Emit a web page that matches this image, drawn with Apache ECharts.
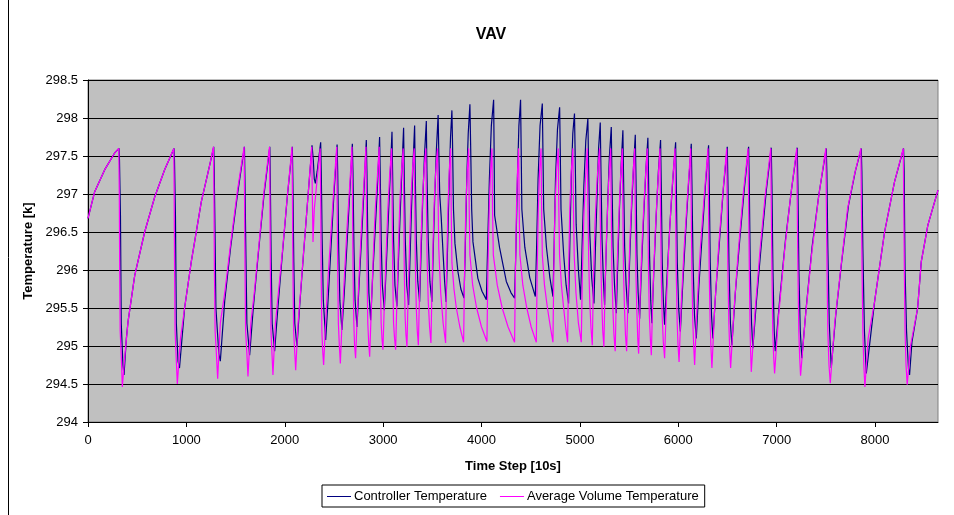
<!DOCTYPE html>
<html>
<head>
<meta charset="utf-8">
<script src="https://cdn.jsdelivr.net/npm/echarts@6/dist/echarts.min.js"></script>
<style>
  html, body { margin: 0; padding: 0; background: #fff; }
  #chart { width: 954px; height: 515px; }
</style>
</head>
<body>
<div id="chart"></div>
<script>
// [time step, temperature K], cycle by cycle
var ctrlEarly = [
    [0,296.68],[68,297.03],[170,297.32],[271,297.54],[315,297.6],
    [320,297.45],[330,296.7],[338,295.3],[355,294.75],[366,294.62],
    [390,295.1],[407,295.32],[475,295.93],[576,296.5],[678,296.96],[779,297.32],[874,297.6],
    [879,297.45],[889,296.7],[898,295.3],[915,294.8],[930,294.71],
    [982,295.5],[1050,296.11],[1152,296.9],[1237,297.38],[1278,297.62],
    [1283,297.3],[1292,296.4],[1300,295.5],[1330,294.9],[1345,294.8],
    [1390,295.6],[1450,296.3],[1520,297.0],[1590,297.62],
    [1595,297.2],[1605,296.2],[1615,295.3],[1643,294.88],
    [1680,295.5],[1730,296.2],[1790,297.0],[1848,297.62],
    [1853,297.2],[1862,296.1],[1872,295.3],[1897,294.93],
    [1930,295.5],[1975,296.2],[2025,296.95],[2077,297.62],
    [2082,297.2],[2092,296.1],[2102,295.3],[2124,294.99],
    [2150,295.5],[2190,296.2],[2235,296.95],[2277,297.64],
    [2290,297.45],[2300,297.2],[2311,297.14],[2330,297.3],[2365,297.68],
    [2372,297.2],[2380,296.4],[2392,295.6],[2416,295.08]
];
var ctrlTransition = [
    [2440,295.6],[2470,296.3],[2500,297.0],[2532,297.65],
    [2538,297.3],[2548,296.3],[2560,295.6],[2581,295.21],
    [2605,295.7],[2635,296.4],[2660,297.0],[2687,297.66],
    [2693,297.3],[2703,296.3],[2715,295.6],[2734,295.25],
    [2755,295.8],[2780,296.4],[2805,297.05],[2829,297.71],
    [2835,297.3],[2845,296.3],[2855,295.7],[2873,295.34],
    [2893,295.9],[2918,296.5],[2942,297.1],[2964,297.75],
    [2970,297.3],[2980,296.4],[2992,295.8],[3012,295.47],
    [3030,296.0],[3050,296.6],[3070,297.2],[3090,297.82],
    [3096,297.3],[3106,296.4],[3120,295.8],[3140,295.52],
    [3155,296.1],[3172,296.7],[3190,297.3],[3208,297.87],
    [3214,297.3],[3225,296.4],[3240,295.8],[3259,295.54],
    [3272,296.1],[3288,296.8],[3304,297.4],[3320,297.9],
    [3326,297.3],[3337,296.4],[3352,295.85],[3371,295.58],
    [3385,296.2],[3402,296.9],[3420,297.5],[3439,297.96],
    [3445,297.3],[3458,296.4],[3475,295.85],[3496,295.58],
    [3510,296.3],[3525,297.0],[3542,297.6],[3559,298.04],
    [3565,297.6],[3575,297.0],[3590,296.7],[3610,296.2],[3625,295.85],[3640,295.58]
];
var ctrlMiddle = [
    [3655,296.3],[3672,297.2],[3685,297.75],[3699,298.1],
    [3705,297.7],[3715,296.8],[3730,296.35],[3760,295.98],[3790,295.75],[3822,295.63],
    [3835,296.3],[3850,297.2],[3865,297.8],[3882,298.18],
    [3890,297.6],[3900,296.8],[3913,296.37],[3963,295.89],[4005,295.72],[4049,295.61],
    [4062,296.3],[4080,297.2],[4100,297.9],[4123,298.24],
    [4128,297.6],[4133,296.72],[4184,296.29],[4252,295.85],[4300,295.7],[4336,295.63],
    [4350,296.3],[4365,297.2],[4380,297.9],[4397,298.24],
    [4403,297.6],[4410,296.8],[4440,296.3],[4490,295.9],[4547,295.65],
    [4560,296.3],[4575,297.2],[4595,297.9],[4618,298.19],
    [4624,297.6],[4632,296.8],[4660,296.3],[4695,295.9],[4726,295.65],
    [4738,296.3],[4752,297.2],[4772,297.85],[4794,298.14],
    [4800,297.6],[4808,296.8],[4835,296.2],[4860,295.8],[4885,295.56],
    [4897,296.3],[4912,297.2],[4928,297.8],[4945,298.06],
    [4952,297.5],[4962,296.6],[4985,296.0],[5007,295.61]
];
var ctrlLate = [
    [5022,296.3],[5040,297.1],[5060,297.7],[5081,297.99],
    [5088,297.4],[5100,296.5],[5120,295.9],[5143,295.56],
    [5158,296.3],[5175,297.0],[5190,297.6],[5207,297.94],
    [5214,297.3],[5225,296.4],[5238,295.9],[5251,295.54],
    [5266,296.2],[5283,296.9],[5300,297.5],[5319,297.88],
    [5326,297.2],[5337,296.3],[5352,295.8],[5370,295.43],
    [5385,296.1],[5402,296.8],[5420,297.4],[5437,297.84],
    [5444,297.2],[5455,296.3],[5470,295.8],[5488,295.43],
    [5505,296.1],[5525,296.8],[5545,297.35],[5563,297.78],
    [5570,297.2],[5580,296.2],[5592,295.7],[5607,295.36],
    [5625,296.0],[5648,296.7],[5670,297.3],[5691,297.74],
    [5698,297.2],[5708,296.2],[5720,295.6],[5732,295.3],
    [5752,296.0],[5775,296.7],[5798,297.3],[5820,297.71],
    [5827,297.1],[5837,296.1],[5848,295.6],[5861,295.28],
    [5885,295.9],[5915,296.6],[5945,297.2],[5973,297.68],
    [5980,297.1],[5990,296.1],[6004,295.5],[6021,295.19],
    [6045,295.8],[6075,296.5],[6105,297.15],[6132,297.66],
    [6139,297.1],[6150,296.1],[6165,295.4],[6183,295.1],
    [6210,295.8],[6245,296.5],[6278,297.15],[6308,297.64],
    [6315,297.1],[6325,296.1],[6338,295.4],[6352,295.1],
    [6380,295.7],[6420,296.4],[6460,297.1],[6498,297.62],
    [6505,297.1],[6515,296.1],[6530,295.3],[6545,295.01],
    [6580,295.7],[6625,296.4],[6670,297.05],[6715,297.62],
    [6722,297.1],[6732,296.0],[6745,295.3],[6758,294.97],
    [6795,295.6],[6845,296.35],[6895,297.05],[6945,297.61],
    [6952,297.1],[6962,296.0],[6975,295.2],[6986,294.93],
    [7030,295.6],[7090,296.4],[7150,297.05],[7209,297.61],
    [7216,297.1],[7226,296.0],[7240,295.2],[7256,294.84],
    [7300,295.5],[7360,296.3],[7430,297.0],[7504,297.6],
    [7510,297.3],[7520,296.3],[7535,295.3],[7555,294.71],
    [7600,295.4],[7660,296.1],[7730,296.85],[7800,297.3],[7860,297.6],
    [7866,297.3],[7876,296.3],[7892,295.2],[7911,294.64],
    [7995,295.58],[8097,296.5],[8198,297.16],[8290,297.6],
    [8296,297.3],[8305,296.0],[8320,295.2],[8340,294.7],[8351,294.62],
    [8375,295.05],[8433,295.5],[8470,296.11],[8537,296.59],[8640,297.05]
];

var avgEarly = [
    [0,296.68],[68,297.03],[170,297.32],[271,297.54],[313,297.6],
    [318,297.0],[322,296.0],[327,295.2],[340,294.8],[349,294.46],
    [373,294.85],[407,295.32],[475,295.93],[576,296.5],[678,296.96],[779,297.32],[872,297.6],
    [876,297.0],[880,296.0],[885,295.2],[898,294.8],[908,294.5],
    [940,295.1],[982,295.5],[1050,296.11],[1152,296.9],[1237,297.38],[1275,297.62],
    [1280,297.0],[1285,296.0],[1292,295.2],[1305,294.9],[1318,294.57],
    [1345,295.3],[1390,295.7],[1450,296.35],[1520,297.05],[1587,297.62],
    [1591,297.0],[1596,296.0],[1602,295.2],[1615,294.9],[1626,294.6],
    [1655,295.3],[1690,295.7],[1735,296.3],[1790,297.05],[1845,297.62],
    [1849,297.0],[1854,296.0],[1860,295.2],[1870,294.9],[1880,294.62],
    [1905,295.3],[1935,295.7],[1980,296.3],[2028,297.0],[2074,297.62],
    [2078,297.0],[2083,296.0],[2090,295.2],[2100,294.95],[2111,294.68],
    [2135,295.3],[2160,295.7],[2195,296.3],[2238,297.0],[2274,297.62],
    [2280,297.0],[2287,296.37],[2300,296.8],[2330,297.2],[2360,297.6],
    [2365,297.0],[2370,296.0],[2377,295.2],[2385,294.95],[2395,294.75]
];
var avgTransition = [
    [2415,295.3],[2440,295.9],[2470,296.5],[2500,297.1],[2528,297.62],
    [2532,297.0],[2538,296.0],[2545,295.3],[2555,295.0],[2565,294.77],
    [2585,295.4],[2610,296.0],[2635,296.6],[2660,297.1],[2683,297.62],
    [2688,297.0],[2694,296.0],[2702,295.3],[2710,295.0],[2720,294.84],
    [2740,295.5],[2762,296.1],[2785,296.7],[2805,297.15],[2825,297.62],
    [2830,297.0],[2836,296.0],[2844,295.3],[2853,295.05],[2863,294.86],
    [2880,295.5],[2900,296.2],[2920,296.8],[2940,297.2],[2960,297.62],
    [2965,297.0],[2971,296.0],[2980,295.3],[2988,295.1],[2998,294.95],
    [3013,295.6],[3030,296.2],[3048,296.8],[3066,297.25],[3086,297.6],
    [3091,297.0],[3097,296.0],[3106,295.3],[3116,295.1],[3127,294.95],
    [3140,295.6],[3155,296.3],[3170,296.9],[3186,297.3],[3204,297.6],
    [3209,297.0],[3215,296.0],[3223,295.4],[3232,295.15],[3242,294.99],
    [3255,295.7],[3270,296.4],[3285,297.0],[3300,297.35],[3316,297.6],
    [3321,297.0],[3327,296.1],[3337,295.5],[3347,295.2],[3358,295.01],
    [3370,295.7],[3385,296.4],[3402,297.0],[3418,297.35],[3434,297.6],
    [3439,297.0],[3446,296.2],[3458,295.6],[3472,295.25],[3486,295.04],
    [3497,295.8],[3510,296.5],[3525,297.1],[3540,297.4],[3553,297.6],
    [3558,297.0],[3565,296.3],[3585,295.7],[3610,295.3],[3635,295.04]
];
var avgMiddle = [
    [3645,296.0],[3658,296.8],[3672,297.3],[3686,297.6],
    [3692,296.8],[3699,296.1],[3720,295.75],[3744,295.5],[3780,295.25],[3818,295.05],
    [3828,296.0],[3840,296.8],[3855,297.3],[3869,297.6],
    [3875,296.8],[3882,296.2],[3910,295.8],[3950,295.5],[4000,295.25],[4055,295.06],
    [4065,296.0],[4078,296.8],[4092,297.3],[4106,297.6],
    [4112,296.8],[4120,296.2],[4160,295.8],[4210,295.5],[4270,295.25],[4336,295.05],
    [4345,296.0],[4355,296.8],[4366,297.3],[4377,297.6],
    [4383,296.8],[4390,296.2],[4420,295.8],[4460,295.5],[4505,295.25],[4557,295.05],
    [4566,296.0],[4577,296.8],[4590,297.3],[4605,297.6],
    [4611,296.8],[4618,296.2],[4640,295.8],[4670,295.5],[4700,295.25],[4726,295.05],
    [4735,296.0],[4746,296.8],[4762,297.3],[4780,297.6],
    [4786,296.8],[4793,296.2],[4812,295.8],[4835,295.5],[4855,295.25],[4875,295.05],
    [4885,296.0],[4897,296.8],[4912,297.3],[4929,297.6],
    [4935,296.8],[4942,296.2],[4960,295.7],[4985,295.3],[5014,295.05]
];
var avgLate = [
    [5026,296.0],[5040,296.7],[5057,297.2],[5075,297.6],
    [5081,296.9],[5090,296.1],[5100,295.6],[5112,295.25],[5126,295.01],
    [5138,295.9],[5153,296.6],[5175,297.2],[5200,297.6],
    [5205,296.9],[5213,296.1],[5222,295.6],[5232,295.2],[5244,294.99],
    [5256,295.8],[5272,296.5],[5292,297.15],[5313,297.6],
    [5318,296.9],[5325,296.0],[5335,295.5],[5346,295.15],[5359,294.93],
    [5372,295.8],[5390,296.5],[5410,297.15],[5431,297.6],
    [5436,296.9],[5443,296.0],[5453,295.5],[5463,295.15],[5475,294.93],
    [5490,295.7],[5510,296.45],[5532,297.1],[5557,297.6],
    [5562,296.9],[5569,296.0],[5578,295.5],[5588,295.1],[5597,294.9],
    [5613,295.7],[5635,296.45],[5660,297.1],[5685,297.6],
    [5690,296.9],[5697,296.0],[5706,295.4],[5716,295.1],[5726,294.88],
    [5742,295.7],[5764,296.45],[5790,297.1],[5814,297.6],
    [5819,296.9],[5826,296.0],[5836,295.4],[5848,295.05],[5861,294.84],
    [5880,295.6],[5905,296.35],[5935,297.05],[5967,297.6],
    [5972,296.9],[5979,296.0],[5989,295.3],[5998,295.0],[6008,294.79],
    [6030,295.55],[6060,296.3],[6095,297.0],[6126,297.6],
    [6131,296.9],[6138,296.0],[6148,295.3],[6157,295.0],[6166,294.75],
    [6190,295.5],[6225,296.3],[6265,297.0],[6302,297.6],
    [6307,296.9],[6314,296.0],[6324,295.3],[6333,294.95],[6342,294.71],
    [6370,295.5],[6410,296.3],[6452,297.0],[6492,297.6],
    [6497,296.9],[6504,296.0],[6514,295.3],[6523,294.95],[6532,294.71],
    [6565,295.45],[6610,296.25],[6660,297.0],[6710,297.6],
    [6715,296.9],[6722,296.0],[6730,295.2],[6736,294.9],[6742,294.66],
    [6780,295.45],[6830,296.25],[6885,297.0],[6940,297.6],
    [6945,296.9],[6952,296.0],[6960,295.2],[6970,294.85],[6979,294.64],
    [7020,295.4],[7080,296.25],[7140,296.95],[7204,297.6],
    [7209,296.9],[7216,296.0],[7225,295.2],[7234,294.85],[7243,294.61],
    [7290,295.35],[7355,296.2],[7425,296.95],[7500,297.6],
    [7505,296.9],[7512,296.0],[7520,295.2],[7532,294.75],[7545,294.51],
    [7590,295.3],[7650,296.0],[7720,296.8],[7790,297.25],[7856,297.6],
    [7861,296.9],[7868,296.0],[7876,295.2],[7886,294.75],[7897,294.46],
    [7930,295.1],[7995,295.58],[8097,296.5],[8198,297.16],[8287,297.6],
    [8292,296.9],[8298,296.0],[8305,295.2],[8315,294.75],[8327,294.49],
    [8360,295.0],[8433,295.5],[8470,296.11],[8537,296.59],[8640,297.05]
];

var seriesNames = ['Controller Temperature', 'Average Volume Temperature'];
var xTicks = [0, 1000, 2000, 3000, 4000, 5000, 6000, 7000, 8000];

var controllerData = ctrlEarly.concat(ctrlTransition, ctrlMiddle, ctrlLate);
var averageData = avgEarly.concat(avgTransition, avgMiddle, avgLate);

var font = 'Arial, "Liberation Sans", sans-serif';
var chart = echarts.init(document.getElementById('chart'));

var option = {
    animation: false,
    backgroundColor: '#ffffff',
    title: {
        text: 'VAV',
        left: 486,
        top: 22,
        textAlign: 'center',
        textStyle: { fontFamily: font, fontSize: 16, fontWeight: 'bold', color: '#000' }
    },
    grid: {
        left: 88,
        right: 16,
        top: 80,
        bottom: 93,
        show: true,
        backgroundColor: '#C0C0C0',
        borderColor: '#808080',
        borderWidth: 1
    },
    legend: {
        data: seriesNames,
        left: 322,
        top: 485,
        padding: [5, 6, 4, 5],
        itemGap: 13,
        itemWidth: 24,
        itemHeight: 1,
        icon: 'rect',
        borderColor: '#000',
        borderWidth: 1,
        textStyle: { fontFamily: font, fontSize: 13, color: '#000', padding: [0, 0, 0, -2] }
    },
    xAxis: {
        type: 'value',
        min: 0,
        max: 8640,
        interval: 1000,
        name: 'Time Step [10s]',
        nameLocation: 'middle',
        nameGap: 38,
        nameTextStyle: { fontFamily: font, fontSize: 13, fontWeight: 'bold', color: '#000' },
        axisLine: { show: true, onZero: false, lineStyle: { color: '#000', width: 1 } },
        axisTick: { show: true, length: 5, lineStyle: { color: '#000' } },
        axisLabel: {
            fontFamily: font, fontSize: 13, color: '#000', margin: 12,
            showMaxLabel: false,
            formatter: function (v) { return xTicks.indexOf(v) >= 0 ? String(v) : ''; }
        },
        splitLine: { show: false }
    },
    yAxis: {
        type: 'value',
        min: 294,
        max: 298.5,
        interval: 0.5,
        name: 'Temperature [k]',
        nameLocation: 'middle',
        nameGap: 42,
        nameRotate: 90,
        nameTextStyle: { fontFamily: font, fontSize: 13, fontWeight: 'bold', color: '#000' },
        axisLine: { show: true, lineStyle: { color: '#000', width: 1 } },
        axisTick: { show: true, length: 5, lineStyle: { color: '#000' } },
        axisLabel: { fontFamily: font, fontSize: 13, color: '#000', margin: 10 },
        splitLine: { show: true, lineStyle: { color: '#000', width: 1 } }
    },
    series: [
        {
            name: seriesNames[0],
            type: 'line',
            data: controllerData,
            showSymbol: false,
            color: '#000080',
            lineStyle: { color: '#000080', width: 1.2 }
        },
        {
            name: seriesNames[1],
            type: 'line',
            data: averageData,
            showSymbol: false,
            color: '#FF00FF',
            lineStyle: { color: '#FF00FF', width: 1.2 }
        }
    ],
    graphic: [
        {
            type: 'line',
            shape: { x1: 8.5, y1: 0, x2: 8.5, y2: 515 },
            style: { stroke: '#000', lineWidth: 1 }
        }
    ]
};

chart.setOption(option);
</script>
</body>
</html>
